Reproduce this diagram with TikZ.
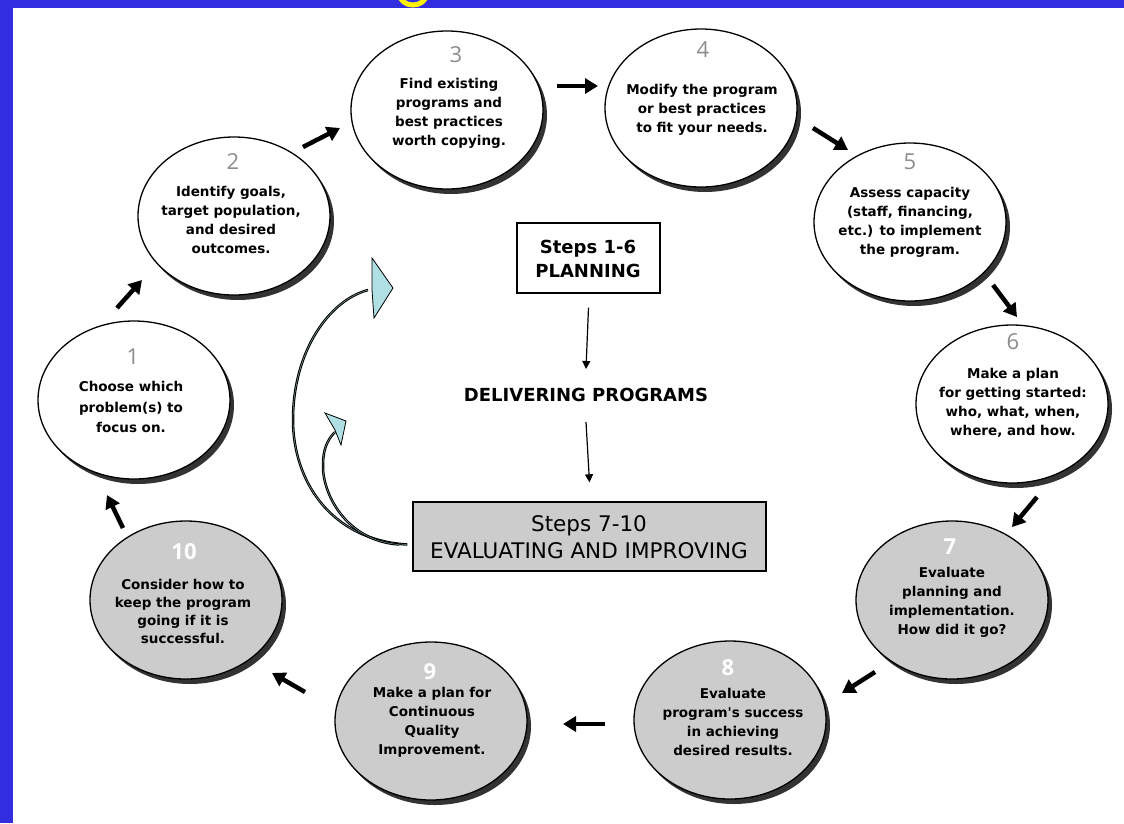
\documentclass[tikz,border=0pt]{standalone}
\usepackage{fontspec}
\setmainfont{Open Sans}
\newfontfamily\dvsans{DejaVu Sans}
\usetikzlibrary{shapes.geometric,arrows.meta,shadows,calc}
\definecolor{bandblue}{RGB}{51,45,224}
\definecolor{evalgray}{RGB}{204,204,204}
\definecolor{numgray}{RGB}{140,140,140}
\definecolor{fbcyan}{RGB}{176,224,228}
\tikzset{
  stepell/.style={ellipse, draw=black, line width=1.3pt, minimum width=192pt, minimum height=158pt, inner sep=0pt,
    general shadow={fill=black!80, shadow xshift=4pt, shadow yshift=-5pt}},
  planell/.style={stepell, fill=white},
  evalell/.style={stepell, fill=evalgray},
  numplan/.style={text=numgray, inner sep=0pt, font=\fontsize{22}{22}\selectfont},
  numeval/.style={text=white, inner sep=0pt, font=\fontsize{22}{22}\selectfont\bfseries},
  steptext/.style={align=center, inner sep=0pt, font=\dvsans\fontsize{13.5}{19}\selectfont\bfseries},
  flowarrow/.style={line width=4.5pt, -{Triangle[length=13pt,width=15pt]}},
  thinarrow/.style={line width=1.2pt, -{Triangle[length=8pt,width=8pt]}},
  phasebox/.style={draw=black, line width=1.4pt, inner sep=0pt},
  fbline/.style={draw=black, line width=1.1pt, double=fbcyan, double distance=0.3pt},
  fbhead/.style={fill=fbcyan, draw=black, line width=0.8pt, line join=miter}
}
\begin{document}
\begin{tikzpicture}[x=1pt, y=-1pt]
\useasboundingbox (0,0) rectangle (1124,823);
\fill[white] (0,0) rectangle (1124,823);
% blue frame
\fill[bandblue] (0,0) rectangle (1124,8);
\fill[bandblue] (0,0) rectangle (13,823);
\begin{scope}
  \clip (0,0) rectangle (1124,8);
  \draw[yellow, line width=5pt] (413,-5) ellipse [x radius=13pt, y radius=10pt];
\end{scope}

% ellipses
\node[planell] (e1) at (134,400) {};
\node[planell] (e2) at (234,216) {};
\node[planell] (e3) at (447,110) {};
\node[planell] (e4) at (701,108) {};
\node[planell] (e5) at (910,222) {};
\node[planell] (e6) at (1012,404) {};
\node[evalell] (e7) at (952,600) {};
\node[evalell] (e8) at (730,720) {};
\node[evalell] (e9) at (431,721) {};
\node[evalell] (e10) at (186,600) {};

% numbers
\node[numplan] (n1) at (133,357) {1};
\node[numplan] (n2) at (233,162) {2};
\node[numplan] (n3) at (456,55) {3};
\node[numplan] (n4) at (703,50) {4};
\node[numplan] (n5) at (910,162) {5};
\node[numplan] (n6) at (1013,342) {6};
\node[numeval] (n7) at (950,547) {7};
\node[numeval] (n8) at (728,668) {8};
\node[numeval] (n9) at (430,672) {9};
\node[numeval] (n10) at (184,552) {10};

% texts
\node[steptext, font=\dvsans\fontsize{13.5}{20.5}\selectfont\bfseries] (t1) at (131,407) {Choose which\\problem(s) to\\focus on.};
\node[steptext] (t2) at (231,220) {Identify goals,\\target population,\\and desired\\outcomes.};
\node[steptext] (t3) at (449,113) {Find existing\\programs and\\best practices\\worth copying.};
\node[steptext] (t4) at (702,110) {Modify the program\\or best practices\\to fit your needs.};
\node[steptext] (t5) at (910,222) {Assess capacity\\(staff, financing,\\etc.) to implement\\the program.};
\node[steptext] (t6) at (1013,403) {Make a plan\\for getting started:\\who, what, when,\\where, and how.};
\node[steptext] (t7) at (952,602) {Evaluate\\planning and\\implementation.\\How did it go?};
\node[steptext] (t8) at (733,722) {Evaluate\\program's success\\in achieving\\desired results.};
\node[steptext] (t9) at (432,722) {Make a plan for\\Continuous\\Quality\\Improvement.};
\node[steptext, font=\dvsans\fontsize{13.5}{18}\selectfont\bfseries] (t10) at (183,611) {Consider how to\\keep the program\\going if it is\\successful.};

% cycle arrows
\coordinate (a12s) at (117,308);  \coordinate (a12e) at (142,280);
\coordinate (a23s) at (303,147);  \coordinate (a23e) at (340,128);
\coordinate (a34s) at (557,86);   \coordinate (a34e) at (598,86);
\coordinate (a45s) at (813,128);  \coordinate (a45e) at (848,150);
\coordinate (a56s) at (993,285);  \coordinate (a56e) at (1017,317);
\coordinate (a67s) at (1037,497); \coordinate (a67e) at (1012,527);
\coordinate (a78s) at (875,672);  \coordinate (a78e) at (842,693);
\coordinate (a89s) at (605,724);  \coordinate (a89e) at (563,724);
\coordinate (a910s) at (305,692); \coordinate (a910e) at (272,673);
\coordinate (a101s) at (123,528); \coordinate (a101e) at (107,495);
\draw[flowarrow] (a12s) -- (a12e);
\draw[flowarrow] (a23s) -- (a23e);
\draw[flowarrow] (a34s) -- (a34e);
\draw[flowarrow] (a45s) -- (a45e);
\draw[flowarrow] (a56s) -- (a56e);
\draw[flowarrow] (a67s) -- (a67e);
\draw[flowarrow] (a78s) -- (a78e);
\draw[flowarrow] (a89s) -- (a89e);
\draw[flowarrow] (a910s) -- (a910e);
\draw[flowarrow] (a101s) -- (a101e);

% centre column
\node[phasebox, minimum width=143pt, minimum height=70pt] (plan) at (588.5,258) {};
\node[align=center, inner sep=0pt, font=\dvsans\fontsize{18}{24}\selectfont\bfseries] (plantxt) at (588,259) {Steps 1-6\\PLANNING};
\node[inner sep=0pt, font=\dvsans\fontsize{18}{18}\selectfont\bfseries] (deliv) at (586,395) {DELIVERING PROGRAMS};
\node[phasebox, fill=evalgray, minimum width=353pt, minimum height=69pt] (evalbox) at (589.5,536.5) {};
\node[align=center, inner sep=0pt, font=\dvsans\fontsize{21.5}{27}\selectfont] (evaltxt) at (589,537) {Steps 7-10\\EVALUATING AND IMPROVING};
\draw[thinarrow] ([yshift=-14pt]plan.south) -- ([yshift=19pt]deliv.north);
\draw[thinarrow] ([yshift=-20pt]deliv.south) -- ([yshift=19pt]evalbox.north);

% feedback arcs
\coordinate (fbstart) at ([xshift=-5pt,yshift=-8pt]evalbox.west);
\coordinate (bigtip) at (368,290);
\coordinate (smalltip) at (335,432);
\draw[fbline] (fbstart) .. controls (330,540) and (293,480) .. (293,420)
   .. controls (293,350) and (330,300) .. (bigtip);
\draw[fbline] ([xshift=-8pt]fbstart) .. controls (345,541) and (322,492) .. (323,465)
   .. controls (323,450) and (327,440) .. (smalltip);
\filldraw[fbhead] (372,258) -- (393,288) -- (374,318) -- (372,290) -- cycle;
\filldraw[fbhead] (325,413) -- (346,421) -- (341,445) -- (335,430) -- cycle;
\end{tikzpicture}
\end{document}
